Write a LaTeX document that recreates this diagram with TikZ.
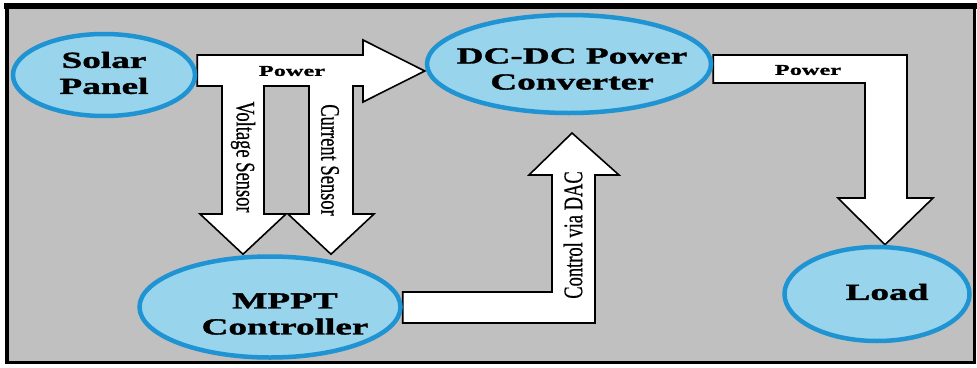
\documentclass[tikz,border=0pt]{standalone}
\usepackage{fontspec}
\setmainfont{Liberation Serif}
\newfontfamily\blobfont[FakeStretch=1.62,FakeBold=1.5]{Liberation Serif}
\newfontfamily\sidefont[FakeBold=0.6]{Liberation Serif}
\usepackage{graphicx}
\usetikzlibrary{shapes.geometric}
\definecolor{panelgray}{RGB}{192,192,192}
\definecolor{blobfill}{RGB}{152,212,236}
\definecolor{blobline}{RGB}{32,148,210}
\pgfdeclarelayer{back}
\pgfdeclarelayer{mid}
\pgfsetlayers{back,mid,main}

\begin{document}
\begin{tikzpicture}[
    x=1pt, y=-1pt,
    blob/.style={ellipse, draw=blobline, fill=blobfill, line width=4.5pt, inner sep=0pt},
    blobtext/.style={font=\blobfont\bfseries\fontsize{23}{26}\selectfont, align=center, inner sep=0pt},
    blockarrow/.style={draw=black, fill=white, line width=1.6pt, line join=miter},
    tag/.style={font=\blobfont\bfseries\fontsize{15}{18}\selectfont, inner sep=0pt},
    sidetag/.style={font=\sidefont\fontsize{18.5}{20}\selectfont, inner sep=0pt}
]
\useasboundingbox (0,0) rectangle (977,367);

% Frame
\begin{pgfonlayer}{back}
\fill[white] (0,0) rectangle (977,367);
\draw[fill=panelgray, line width=3.5pt] (7,7) rectangle (974.5,362.5);
\draw[line width=6pt] (4,6) -- (977,6);
\end{pgfonlayer}

% Blocks
\node[blob, minimum width=182pt, minimum height=82pt, label={[blobtext, yshift=2pt]center:Solar\\Panel}] (solar) at (104,75) {};
\node[blob, minimum width=284pt, minimum height=98pt, label={[blobtext, xshift=3pt, yshift=-5pt]center:DC-DC Power\\Converter}] (dcdc) at (569,64) {};
\node[blob, minimum width=261pt, minimum height=101pt, label={[blobtext, xshift=15pt, yshift=-7pt]center:MPPT\\Controller}] (mppt) at (270,307) {};
\node[blob, minimum width=185pt, minimum height=94pt, label={[blobtext, xshift=10pt, yshift=2pt]center:Load}] (load) at (877,294) {};

\coordinate (dactip) at (572,133);

% Block arrows
\begin{pgfonlayer}{mid}
\draw[blockarrow] (solar.east |- 0,55) -- (363,55) -- (363,40) -- (dcdc.west |- 0,71) -- (363,102) -- (363,86)
  -- (353,86) -- (353,214) -- (374,214) -- (mppt.north -| 331,0) -- (288,214) -- (309,214) -- (309,86)
  -- (264,86) -- (264,214) -- (286,214) -- (mppt.north -| 243,0) -- (200,214) -- (222,214) -- (222,86)
  -- (solar.east |- 0,86) -- cycle;
\draw[blockarrow] (mppt.east |- 0,292) -- (552,292) -- (552,175) -- (529,175) -- (dactip) -- (619,175)
  -- (595,175) -- (595,323) -- (mppt.east |- 0,323) -- cycle;
\draw[blockarrow] (dcdc.east |- 0,55) -- (907,55) -- (907,198) -- (933,198) -- (load.north -| 885,0)
  -- (838,198) -- (865,198) -- (865,83) -- (dcdc.east |- 0,83) -- cycle;
\end{pgfonlayer}

% Arrow labels
\node[tag] (pw1) at (292,71) {Power};
\node[tag] (pw2) at (808,70) {Power};
\node[sidetag, rotate=-90] (vsense) at (243,157) {\scalebox{1}[1.45]{Voltage Sensor}};
\node[sidetag, rotate=-90] (csense) at (330,160) {\scalebox{1}[1.45]{Current Sensor}};
\node[sidetag, rotate=90] (dac) at (573,235) {\scalebox{1}[1.45]{Control via DAC}};

\end{tikzpicture}
\end{document}
